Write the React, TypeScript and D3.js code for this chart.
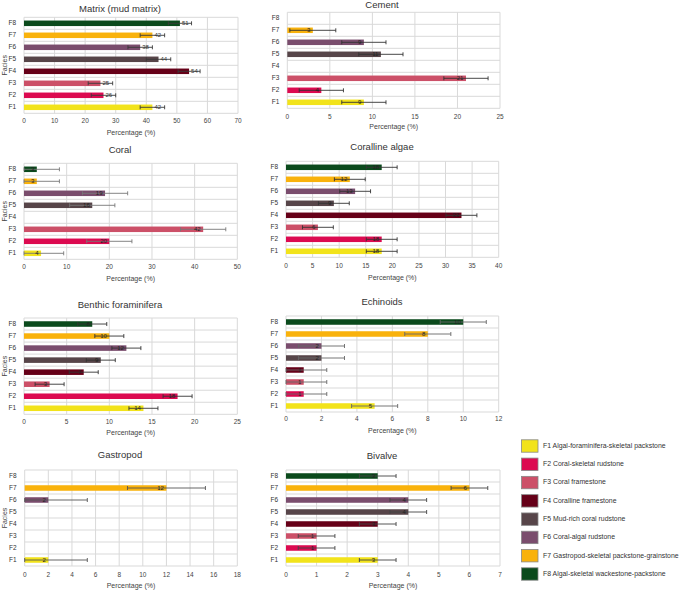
import React from 'react';
import * as d3 from 'd3';

const facies = ['F1', 'F2', 'F3', 'F4', 'F5', 'F6', 'F7', 'F8'];
const faciesColors = ['#F2E31B', '#DC0A50', '#CC5068', '#660018', '#574549', '#7A4D6D', '#F9B20C', '#0B4A1C'];
const legendLabels = [
  'F1 Algal-foraminifera-skeletal packstone',
  'F2 Coral-skeletal rudstone',
  'F3 Coral framestone',
  'F4 Coralline framestone',
  'F5 Mud-rich coral rudstone',
  'F6 Coral-algal rudstone',
  'F7 Gastropod-skeletal packstone-grainstone',
  'F8 Algal-skeletal wackestone-packstone',
];

const matrixValues = [42, 26, 25, 54, 44, 38, 42, 51];
const matrixErr = [4, 4, 4, 3.6, 4, 4, 4, 3.8];
const cementValues = [9, 4, 21, 0, 11, 9, 3, 0];
const cementErr = [2.6, 2.6, 2.6, 0, 2.6, 2.6, 2.7, 0];
const coralValues = [4, 20, 42, 0, 16, 19, 3, 3];
const coralErr = [5.3, 5.3, 5.3, 0, 5.3, 5.3, 5.3, 5.3];
const corallineValues = [18, 18, 6, 33, 9, 13, 12, 18];
const corallineErr = [2.9, 2.9, 2.9, 2.9, 2.9, 2.9, 2.9, 2.9];
const benthicValues = [14, 18, 3, 7, 9, 12, 10, 8];
const benthicErr = [1.7, 1.7, 1.7, 1.7, 1.7, 1.7, 1.7, 1.7];
const echinoidValues = [5, 1, 1, 1, 2, 2, 8, 10];
const echinoidErr = [1.3, 1.3, 1.3, 1.3, 1.3, 1.3, 1.3, 1.3];
const gastropodValues = [2, 0, 0, 0, 0, 2, 12, 0];
const gastropodErr = [3.3, 0, 0, 0, 0, 3.3, 3.3, 0];
const bivalveValues = [3, 1, 1, 3, 4, 4, 6, 3];
const bivalveErr = [0.6, 0.6, 0.6, 0.6, 0.6, 0.6, 0.6, 0.6];

const titles = ['Matrix (mud matrix)', 'Cement', 'Coral', 'Coralline algae', 'Benthic foraminifera', 'Echinoids', 'Gastropod', 'Bivalve'];
const axisMax = [70, 25, 50, 40, 25, 12, 18, 7];
const axisStep = [10, 5, 10, 5, 5, 2, 2, 1];
const xAxisTitle = 'Percentage (%)';
const yAxisTitle = 'Facies';

const FONT = "'Liberation Sans', Arial, sans-serif";

type PanelCfg = {
  title: string; values: number[]; errs: number[]; max: number; step: number;
  x0: number; x1: number; top: number; bottom: number; titleX: number; titleY: number;
  tickY: number; axisTitleY: number; showFacies: boolean; labelOutside: boolean; errColor: string;
};

const layouts = [
  { x0: 24, x1: 238, top: 17.3, bottom: 113.3, titleX: 120, titleY: 9.5, tickY: 121, axisTitleY: 133, showFacies: true, labelOutside: true, errColor: '#3a3a3a' },
  { x0: 287.3, x1: 500, top: 12.3, bottom: 108.3, titleX: 382, titleY: 5.5, tickY: 117, axisTitleY: 127.5, showFacies: false, labelOutside: false, errColor: '#333' },
  { x0: 24, x1: 237.3, top: 163.3, bottom: 259.3, titleX: 120, titleY: 150, tickY: 267, axisTitleY: 279, showFacies: true, labelOutside: false, errColor: '#777' },
  { x0: 286, x1: 498.7, top: 161.3, bottom: 257.3, titleX: 382, titleY: 147, tickY: 266, axisTitleY: 278, showFacies: false, labelOutside: false, errColor: '#333' },
  { x0: 24, x1: 237.3, top: 318, bottom: 414.3, titleX: 120, titleY: 305, tickY: 422, axisTitleY: 433, showFacies: true, labelOutside: false, errColor: '#333' },
  { x0: 286, x1: 498.7, top: 316, bottom: 412, titleX: 382, titleY: 302, tickY: 419.5, axisTitleY: 431, showFacies: false, labelOutside: false, errColor: '#666' },
  { x0: 24.7, x1: 237.3, top: 470, bottom: 566, titleX: 120, titleY: 455, tickY: 575, axisTitleY: 586, showFacies: true, labelOutside: false, errColor: '#555' },
  { x0: 286, x1: 500, top: 470, bottom: 566, titleX: 382, titleY: 456, tickY: 575, axisTitleY: 586, showFacies: false, labelOutside: false, errColor: '#444' },
];

const valueSets = [matrixValues, cementValues, coralValues, corallineValues, benthicValues, echinoidValues, gastropodValues, bivalveValues];
const errSets = [matrixErr, cementErr, coralErr, corallineErr, benthicErr, echinoidErr, gastropodErr, bivalveErr];

const panels: PanelCfg[] = layouts.map((l, i) => ({
  ...l, title: titles[i], values: valueSets[i], errs: errSets[i], max: axisMax[i], step: axisStep[i],
}));

function Panel({ p }: { p: PanelCfg }) {
  const x = d3.scaleLinear().domain([0, p.max]).range([p.x0, p.x1]);
  const y = d3.scaleBand<string>().domain([...facies].reverse()).range([p.top, p.bottom]).paddingInner(0.54).paddingOuter(0.27);
  const ticks = d3.range(0, p.max + p.step / 2, p.step);
  const stepY = y.step();
  const rows = d3.range(0, facies.length + 1).map((i) => p.top + i * stepY);
  const grid = '#d9d9d9';
  return (
    <g>
      <text x={p.titleX} y={p.titleY} fontSize={9.5} fill="#333" textAnchor="middle" dominantBaseline="middle" fontFamily={FONT}>{p.title}</text>
      {ticks.map((t) => (
        <line key={'v' + t} x1={x(t)} x2={x(t)} y1={p.top} y2={p.bottom} stroke={grid} strokeWidth={1} />
      ))}
      {rows.map((r, i) => (
        <line key={'h' + i} x1={p.x0} x2={p.x1} y1={r} y2={r} stroke={grid} strokeWidth={1} />
      ))}
      {facies.map((f, i) => {
        const v = p.values[i];
        const e = p.errs[i];
        const yy = y(f)!;
        const cy = yy + y.bandwidth() / 2;
        return (
          <g key={f}>
            <text x={p.x0 - 8} y={cy} fontSize={6.5} fill="#333" textAnchor="end" dominantBaseline="middle" fontFamily={FONT}>{f}</text>
            {v > 0 && (
              <>
                <rect x={x(0)} y={yy} width={x(v) - x(0)} height={y.bandwidth()} fill={faciesColors[i]} />
                <line x1={x(Math.max(0, v - e))} x2={x(v + e)} y1={cy} y2={cy} stroke={p.errColor} strokeWidth={0.9} />
                <line x1={x(Math.max(0, v - e))} x2={x(Math.max(0, v - e))} y1={cy - 2} y2={cy + 2} stroke={p.errColor} strokeWidth={0.9} />
                <line x1={x(v + e)} x2={x(v + e)} y1={cy - 2} y2={cy + 2} stroke={p.errColor} strokeWidth={0.9} />
                {p.labelOutside ? (
                  <text x={x(v) + 2} y={cy + 0.3} fontSize={6} fill="#333" textAnchor="start" dominantBaseline="middle" fontFamily={FONT}>{v}</text>
                ) : (
                  <text x={x(v) - 2.5} y={cy + 0.3} fontSize={6} fill="#222" textAnchor="end" dominantBaseline="middle" fontFamily={FONT}>{v}</text>
                )}
              </>
            )}
          </g>
        );
      })}
      {ticks.map((t) => (
        <text key={'t' + t} x={x(t)} y={p.tickY} fontSize={6.5} fill="#444" textAnchor="middle" dominantBaseline="middle" fontFamily={FONT}>{t}</text>
      ))}
      <text x={(p.x0 + p.x1) / 2} y={p.axisTitleY} fontSize={7} fill="#444" textAnchor="middle" dominantBaseline="middle" fontFamily={FONT}>{xAxisTitle}</text>
      {p.showFacies && (
        <text transform={`translate(5,${(p.top + p.bottom) / 2}) rotate(-90)`} fontSize={7} fill="#444" textAnchor="middle" dominantBaseline="middle" fontFamily={FONT}>{yAxisTitle}</text>
      )}
    </g>
  );
}

function Legend() {
  const ly = d3.scaleLinear().domain([0, 7]).range([446, 574]);
  return (
    <g>
      {legendLabels.map((l, i) => (
        <g key={l}>
          <rect x={521.5} y={ly(i) - 6.2} width={16.5} height={12.4} fill={faciesColors[i]} stroke="#888" strokeWidth={0.8} />
          <text x={543} y={ly(i)} fontSize={6.9} fill="#333" dominantBaseline="middle" fontFamily={FONT}>{l}</text>
        </g>
      ))}
    </g>
  );
}

export default function App() {
  return (
    <svg width={685} height={590} style={{ position: 'absolute', left: 0, top: 0, background: '#fff' }}>
      <rect x={0} y={0} width={685} height={590} fill="#fff" />
      {panels.map((p) => (
        <Panel key={p.title} p={p} />
      ))}
      <Legend />
    </svg>
  );
}
